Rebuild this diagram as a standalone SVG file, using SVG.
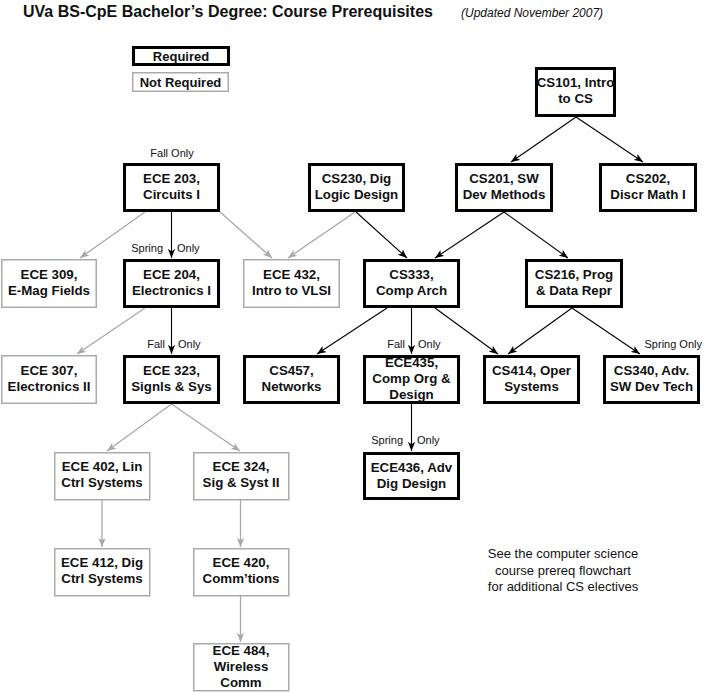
<svg xmlns="http://www.w3.org/2000/svg" width="704" height="692" viewBox="0 0 704 692">
<style>
text{font-family:"Liberation Sans",Arial,sans-serif;fill:#111}
.t{font-size:16px;font-weight:bold}
.u{font-size:12px;font-style:italic}
.n{font-size:13.3px;font-weight:bold;text-anchor:middle}
.lg{font-size:13px;font-weight:bold;text-anchor:middle}
.l{font-size:11px}
.e{text-anchor:end}
.note{font-size:13px;text-anchor:middle}
.req{fill:#fff;stroke:#000;stroke-width:3}
.opt{fill:#fff;stroke:#ababab;stroke-width:1.5}
.cb{stroke:#000;stroke-width:1.1;fill:none;marker-end:url(#ab)}
.cg{stroke:#a8a8a8;stroke-width:1.3;fill:none;marker-end:url(#ag)}
</style>
<defs>
<marker id="ab" viewBox="0 0 10 8" refX="10" refY="4" markerWidth="9" markerHeight="7.5" markerUnits="userSpaceOnUse" orient="auto"><path d="M0,0 L10,4 L0,8 L2.5,4 z" fill="#000"/></marker>
<marker id="ag" viewBox="0 0 10 8" refX="10" refY="4" markerWidth="9" markerHeight="7.5" markerUnits="userSpaceOnUse" orient="auto"><path d="M0,0 L10,4 L0,8 L2.5,4 z" fill="#a8a8a8"/></marker>
</defs>
<rect width="704" height="692" fill="#fff"/>
<g id="title">
<text class="t" x="23" y="17">UVa BS-CpE Bachelor’s Degree: Course Prerequisites</text>
<text class="u" x="461" y="17">(Updated November 2007)</text>
</g>
<g id="legend">
<rect class="req" x="133.5" y="47.5" width="95" height="17"/>
<text class="lg" x="181" y="61">Required</text>
<rect class="opt" x="132.75" y="72.75" width="95.5" height="18.5"/>
<text class="lg" x="180.5" y="87">Not Required</text>
</g>
<g id="connectors">
<line class="cb" x1="576" y1="117" x2="511" y2="162"/>
<line class="cb" x1="576" y1="117" x2="643" y2="162"/>
<line class="cb" x1="171.5" y1="212" x2="171.5" y2="258"/>
<line class="cg" x1="145" y1="212" x2="80" y2="258"/>
<line class="cg" x1="220" y1="212" x2="272" y2="258"/>
<line class="cg" x1="355" y1="212" x2="288" y2="258"/>
<line class="cb" x1="356" y1="212" x2="407" y2="258"/>
<line class="cb" x1="504" y1="212" x2="435" y2="258"/>
<line class="cb" x1="504" y1="212" x2="568" y2="258"/>
<line class="cg" x1="145" y1="308" x2="77" y2="354"/>
<line class="cb" x1="171.5" y1="308" x2="171.5" y2="354"/>
<line class="cb" x1="387" y1="308" x2="317" y2="354"/>
<line class="cb" x1="411.5" y1="308" x2="411.5" y2="354"/>
<line class="cb" x1="435" y1="308" x2="498" y2="354"/>
<line class="cb" x1="572" y1="308" x2="508" y2="354"/>
<line class="cb" x1="572" y1="308" x2="640" y2="354"/>
<line class="cg" x1="171.5" y1="404" x2="107" y2="451"/>
<line class="cg" x1="171.5" y1="404" x2="240" y2="451"/>
<line class="cb" x1="411.5" y1="404" x2="411.5" y2="451"/>
<line class="cg" x1="102" y1="500" x2="102" y2="547"/>
<line class="cg" x1="240.5" y1="500" x2="240.5" y2="547"/>
<line class="cg" x1="240.5" y1="596" x2="240.5" y2="642"/>
</g>
<g id="labels">
<text class="l" x="172" y="157" text-anchor="middle">Fall Only</text>
<text class="l e" x="163" y="252">Spring</text>
<text class="l" x="177" y="252">Only</text>
<text class="l e" x="165" y="348">Fall</text>
<text class="l" x="178" y="348">Only</text>
<text class="l e" x="405" y="348">Fall</text>
<text class="l" x="418" y="348">Only</text>
<text class="l e" x="702" y="348">Spring Only</text>
<text class="l e" x="403" y="444">Spring</text>
<text class="l" x="417" y="444">Only</text>
</g>
<g id="cs101"><rect class="req" x="536.5" y="68.5" width="78" height="47"/><text class="n" x="575.5" y="87">CS101, Intro</text><text class="n" x="575.5" y="103">to CS</text></g>
<g id="ece203"><rect class="req" x="124.5" y="164.5" width="94" height="46"/><text class="n" x="171.5" y="183">ECE 203,</text><text class="n" x="171.5" y="199">Circuits I</text></g>
<g id="cs230"><rect class="req" x="309.5" y="164.5" width="94" height="46"/><text class="n" x="356.5" y="183">CS230, Dig</text><text class="n" x="356.5" y="199">Logic Design</text></g>
<g id="cs201"><rect class="req" x="456.5" y="164.5" width="95" height="46"/><text class="n" x="504" y="183">CS201, SW</text><text class="n" x="504" y="199">Dev Methods</text></g>
<g id="cs202"><rect class="req" x="600.5" y="164.5" width="95" height="46"/><text class="n" x="648" y="183">CS202,</text><text class="n" x="648" y="199">Discr Math I</text></g>
<g id="ece309"><rect class="opt" x="1.75" y="259.75" width="94.5" height="47.5"/><text class="n" x="49" y="279">ECE 309,</text><text class="n" x="49" y="295">E-Mag Fields</text></g>
<g id="ece204"><rect class="req" x="124.5" y="260.5" width="94" height="46"/><text class="n" x="171.5" y="279">ECE 204,</text><text class="n" x="171.5" y="295">Electronics I</text></g>
<g id="ece432"><rect class="opt" x="243.75" y="259.75" width="95.5" height="47.5"/><text class="n" x="291.5" y="279">ECE 432,</text><text class="n" x="291.5" y="295">Intro to VLSI</text></g>
<g id="cs333"><rect class="req" x="364.5" y="260.5" width="94" height="46"/><text class="n" x="411.5" y="279">CS333,</text><text class="n" x="411.5" y="295">Comp Arch</text></g>
<g id="cs216"><rect class="req" x="526.5" y="260.5" width="95" height="46"/><text class="n" x="574" y="279">CS216, Prog</text><text class="n" x="574" y="295">&amp; Data Repr</text></g>
<g id="ece307"><rect class="opt" x="1.75" y="355.75" width="94.5" height="47.5"/><text class="n" x="49" y="375">ECE 307,</text><text class="n" x="49" y="391">Electronics II</text></g>
<g id="ece323"><rect class="req" x="124.5" y="356.5" width="94" height="46"/><text class="n" x="171.5" y="375">ECE 323,</text><text class="n" x="171.5" y="391">Signls &amp; Sys</text></g>
<g id="cs457"><rect class="req" x="244.5" y="356.5" width="94" height="46"/><text class="n" x="291.5" y="375">CS457,</text><text class="n" x="291.5" y="391">Networks</text></g>
<g id="ece435"><rect class="req" x="364.5" y="356.5" width="94" height="46"/><text class="n" x="411.5" y="367">ECE435,</text><text class="n" x="411.5" y="383">Comp Org &amp;</text><text class="n" x="411.5" y="399">Design</text></g>
<g id="cs414"><rect class="req" x="484.5" y="356.5" width="94" height="46"/><text class="n" x="531.5" y="375">CS414, Oper</text><text class="n" x="531.5" y="391">Systems</text></g>
<g id="cs340"><rect class="req" x="604.5" y="356.5" width="94" height="46"/><text class="n" x="651.5" y="375">CS340, Adv.</text><text class="n" x="651.5" y="391">SW Dev Tech</text></g>
<g id="ece402"><rect class="opt" x="54.75" y="452.75" width="95" height="47"/><text class="n" x="102" y="471">ECE 402, Lin</text><text class="n" x="102" y="487">Ctrl Systems</text></g>
<g id="ece324"><rect class="opt" x="193.75" y="452.75" width="95" height="47"/><text class="n" x="241" y="471">ECE 324,</text><text class="n" x="241" y="487">Sig &amp; Syst II</text></g>
<g id="ece436"><rect class="req" x="364.5" y="453.5" width="94" height="45"/><text class="n" x="411.5" y="472">ECE436, Adv</text><text class="n" x="411.5" y="488">Dig Design</text></g>
<g id="ece412"><rect class="opt" x="54.75" y="548.75" width="95" height="47"/><text class="n" x="102" y="567">ECE 412, Dig</text><text class="n" x="102" y="583">Ctrl Systems</text></g>
<g id="ece420"><rect class="opt" x="193.75" y="548.75" width="95" height="47"/><text class="n" x="241" y="567">ECE 420,</text><text class="n" x="241" y="583">Comm’tions</text></g>
<g id="ece484"><rect class="opt" x="193.75" y="643.75" width="95" height="47"/><text class="n" x="241" y="655">ECE 484,</text><text class="n" x="241" y="671">Wireless</text><text class="n" x="241" y="687">Comm</text></g>
<g id="note">
<text class="note" x="563" y="558">See the computer science</text>
<text class="note" x="563" y="575">course prereq flowchart</text>
<text class="note" x="563" y="591">for additional CS electives</text>
</g>
</svg>
